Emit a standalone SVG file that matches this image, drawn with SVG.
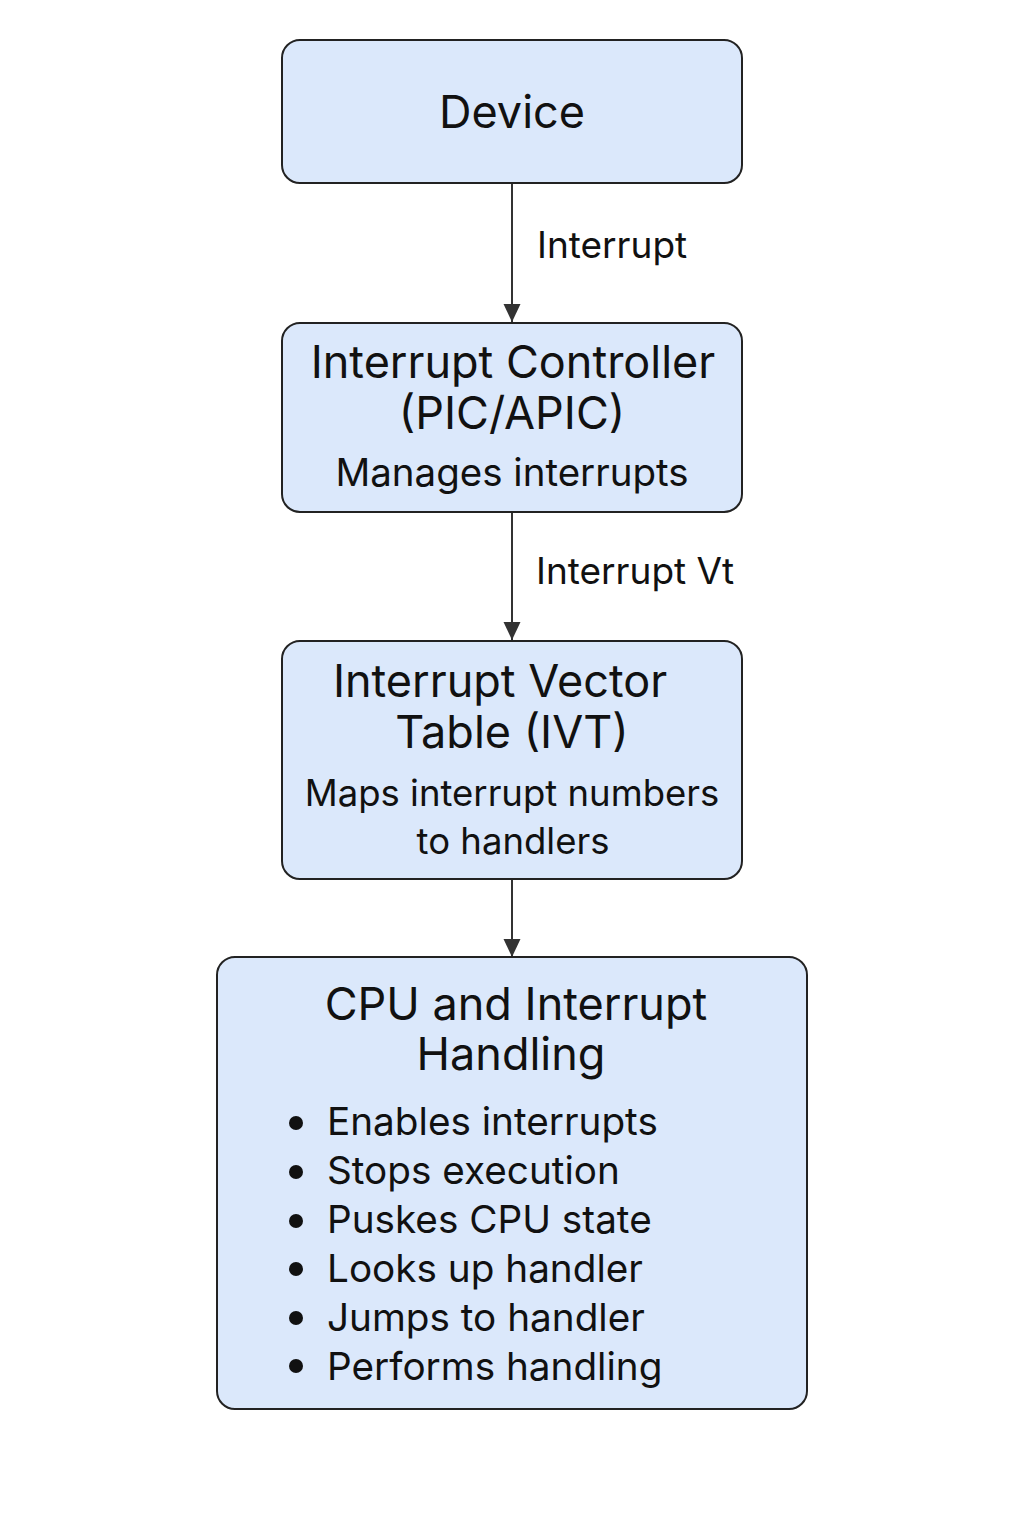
<svg xmlns="http://www.w3.org/2000/svg" width="1024" height="1536" viewBox="0 0 1024 1536">
<style>
.box{fill:#dbe8fb;stroke:#222;stroke-width:2}
.t{font-family:Inter,"Noto Sans","Liberation Sans",sans-serif;fill:#111;text-anchor:middle}
.h{font-size:45px}
.s{font-size:36.5px}
.m{font-size:38.5px}
.l{font-family:Inter,"Noto Sans","Liberation Sans",sans-serif;fill:#111;font-size:37px}
.b{font-family:Inter,"Noto Sans","Liberation Sans",sans-serif;fill:#111;font-size:38.7px}
.c{stroke:#333;stroke-width:2;fill:none}
</style>
<defs>
<marker id="ah" viewBox="0 0 18 18" refX="18" refY="9" markerWidth="18" markerHeight="18" markerUnits="userSpaceOnUse" orient="auto"><path d="M0,0.5 L18,9 L0,17.5 z" fill="#333"/></marker>
</defs>
<rect width="1024" height="1536" fill="#fff"/>
<g id="connectors">
<line class="c" x1="512" y1="183" x2="512" y2="322" marker-end="url(#ah)"/>
<line class="c" x1="512" y1="512" x2="512" y2="640" marker-end="url(#ah)"/>
<line class="c" x1="512" y1="879" x2="512" y2="957" marker-end="url(#ah)"/>
<text class="l" x="537" y="258">Interrupt</text>
<text class="l" x="536" y="584">Interrupt Vt</text>
</g>
<g id="device">
<rect class="box" x="282" y="40" width="460" height="143" rx="18"/>
<text class="t h" x="512" y="128">Device</text>
</g>
<g id="controller">
<rect class="box" x="282" y="323" width="460" height="189" rx="18"/>
<text class="t h" x="513" y="378">Interrupt Controller</text>
<text class="t h" x="512" y="429">(PIC/APIC)</text>
<text class="t m" x="512" y="486">Manages interrupts</text>
</g>
<g id="ivt">
<rect class="box" x="282" y="641" width="460" height="238" rx="18"/>
<text class="t h" x="500" y="697">Interrupt Vector</text>
<text class="t h" x="512" y="748">Table (IVT)</text>
<text class="t s" x="512" y="806">Maps interrupt numbers</text>
<text class="t s" x="513" y="854">to handlers</text>
</g>
<g id="cpu">
<rect class="box" x="217" y="957" width="590" height="452" rx="18"/>
<text class="t h" x="516" y="1020">CPU and Interrupt</text>
<text class="t h" x="511" y="1070">Handling</text>
<g fill="#111">
<circle cx="296" cy="1123" r="7"/>
<circle cx="296" cy="1172" r="7"/>
<circle cx="296" cy="1221" r="7"/>
<circle cx="296" cy="1269" r="7"/>
<circle cx="296" cy="1318" r="7"/>
<circle cx="296" cy="1366" r="7"/>
</g>
<text class="b" x="327" y="1135">Enables interrupts</text>
<text class="b" x="327" y="1184">Stops execution</text>
<text class="b" x="327" y="1233">Puskes CPU state</text>
<text class="b" x="327" y="1282">Looks up handler</text>
<text class="b" x="327" y="1331">Jumps to handler</text>
<text class="b" x="327" y="1380">Performs handling</text>
</g>
</svg>
